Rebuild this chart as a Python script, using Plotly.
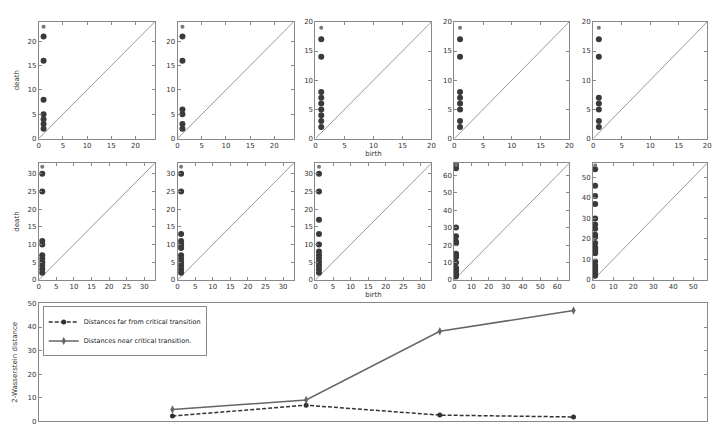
import plotly.graph_objects as go

W, H = 727, 429

# persistence diagrams (finite points, birth ~ 1)
BIRTH = 1
deaths = [
    [21, 16, 8, 5, 4, 3, 2],
    [21, 16, 6, 5, 3, 2],
    [17, 14, 8, 7, 6, 5, 4, 3, 2],
    [17, 14, 8, 7, 6, 5, 3, 2],
    [17, 14, 7, 6, 5, 3, 2],
    [30, 25, 11, 10, 7, 6, 5, 4, 3, 2],
    [30, 25, 13, 11, 10, 9, 7, 6, 5, 4, 3, 2],
    [30, 25, 17, 13, 10, 8, 7, 6, 5, 4, 3, 2],
    [66, 64, 30, 25, 22, 21, 15, 14, 13, 10, 7, 6, 5, 4, 3, 2],
    [54, 46, 41, 37, 30, 27, 25, 22, 21, 18, 16, 15, 14, 13, 9, 7, 6, 5, 4, 3, 2],
]
essential = [23, 23, 19, 19, 19, 32, 32, 32, 66, 56]
axis_max = [24, 24, 20, 20, 20, 33, 33, 33, 67, 57]
dticks = [5, 5, 5, 5, 5, 5, 5, 5, 10, 10]

# bottom panel
steps = [1, 2, 3, 4]
far_dist = [2.2, 6.8, 2.6, 1.8]
near_dist = [5.0, 9.0, 38.2, 47.0]

col_px = [(29, 146), (169, 286), (308, 425), (448, 564), (588, 703)]
row_px = [(10, 129), (154, 273)]

FONT = dict(family="DejaVu Sans", size=7, color="#333")
FRAME = "#888"

fig = go.Figure()
layout = {}


def axis_common():
    return dict(showgrid=False, zeroline=False, showline=True, linecolor=FRAME,
                linewidth=1, mirror="ticks", ticks="inside", ticklen=3,
                tickcolor=FRAME, tickfont=FONT)


for i in range(10):
    r, c = divmod(i, 5)
    n = i + 1
    xs = "" if n == 1 else str(n)
    x0, x1 = col_px[c]
    y0, y1 = row_px[r]
    m = axis_max[i]
    xa = axis_common()
    xa.update(domain=[x0 / W, x1 / W], range=[0, m], dtick=dticks[i],
              anchor="y" + xs)
    ya = axis_common()
    ya.update(domain=[1 - y1 / H, 1 - y0 / H], range=[0, m], dtick=dticks[i],
              anchor="x" + xs)
    if c == 0:
        ya.update(title=dict(text="death", font=FONT, standoff=6))
    if c == 2:
        xa.update(title=dict(text="birth", font=FONT, standoff=0))
    layout["xaxis" + xs] = xa
    layout["yaxis" + xs] = ya

    fig.add_trace(go.Scatter(x=[0, m], y=[0, m], mode="lines",
                             line=dict(color="#999", width=1),
                             xaxis="x" + xs, yaxis="y" + xs, showlegend=False,
                             hoverinfo="skip"))
    fig.add_trace(go.Scatter(x=[BIRTH] * len(deaths[i]), y=deaths[i], mode="markers",
                             marker=dict(color="#3a3a3a", size=6),
                             xaxis="x" + xs, yaxis="y" + xs, showlegend=False,
                             cliponaxis=False))
    fig.add_trace(go.Scatter(x=[BIRTH], y=[essential[i]], mode="markers",
                             marker=dict(color="#777", size=4),
                             xaxis="x" + xs, yaxis="y" + xs, showlegend=False))

# bottom line chart
xa = axis_common()
xa.update(domain=[29 / W, 703 / W], range=[0, 5], anchor="y11",
          showticklabels=False, ticks="")
ya = axis_common()
ya.update(domain=[1 - 417 / H, 1 - 297 / H], range=[0, 50], dtick=10, anchor="x11",
          title=dict(text="2-Wasserstein distance", font=FONT, standoff=8))
layout["xaxis11"] = xa
layout["yaxis11"] = ya

fig.add_trace(go.Scatter(x=steps, y=far_dist, mode="lines+markers",
                         name="Distances far from critical transition",
                         line=dict(color="#333", width=1.5, dash="4px,2px"),
                         marker=dict(symbol="circle", size=5, color="#333"),
                         xaxis="x11", yaxis="y11"))
fig.add_trace(go.Scatter(x=steps, y=near_dist, mode="lines+markers",
                         name="Distances near critical transition.",
                         line=dict(color="#666", width=1.5),
                         marker=dict(symbol="diamond-tall", size=6, color="#666"),
                         xaxis="x11", yaxis="y11"))

fig.update_layout(
    width=W, height=H,
    margin=dict(l=0, r=0, t=0, b=0),
    paper_bgcolor="white", plot_bgcolor="white",
    font=FONT,
    legend=dict(x=33 / W, y=1 - 300 / H, xanchor="left", yanchor="top",
                bordercolor=FRAME, borderwidth=1, bgcolor="white",
                font=dict(family="DejaVu Sans", size=6.5, color="#222"),
                itemwidth=30, tracegroupgap=0),
    **layout,
)

fig.write_html("out.html")
